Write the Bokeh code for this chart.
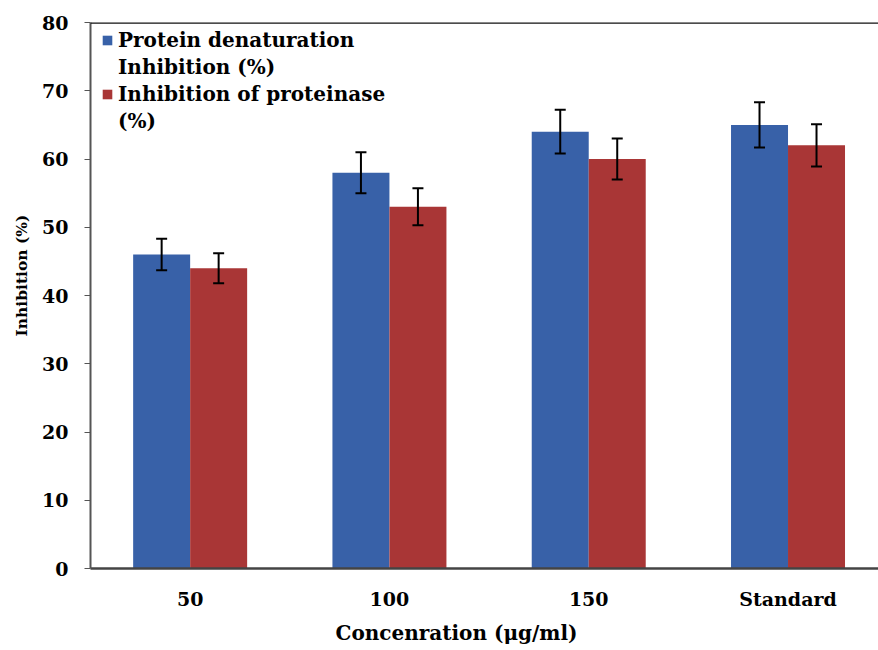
from bokeh.plotting import figure
from bokeh.models import (ColumnDataSource, Range1d, FixedTicker, Whisker, Span,
                          Legend, LegendItem, TeeHead, Title)
from bokeh.embed import file_html
from bokeh.resources import INLINE

categories = ["50", "100", "150", "Standard"]
denaturation = [46, 58, 64, 65]
denaturation_err = [2.3, 3.0, 3.2, 3.3]
proteinase = [44, 53, 60, 62]
proteinase_err = [2.2, 2.7, 3.0, 3.1]
y_ticks = [0, 10, 20, 30, 40, 50, 60, 70, 80]
legend_lines_1 = ["Protein denaturation", "Inhibition (%)"]
legend_lines_2 = ["Inhibition of proteinase", "(%)"]
x_title = "Concenration (μg/ml)"
y_title = "Inhibition (%)"

BLUE = "#3861A8"
RED = "#A93636"
FONT = "DejaVu Serif"
BAR_W = 0.286
OFF = 0.143

pos = [i + 0.5 for i in range(len(categories))]

src_b = ColumnDataSource(dict(
    x=[p_ - OFF for p_ in pos], top=denaturation,
    upper=[v + e for v, e in zip(denaturation, denaturation_err)],
    lower=[v - e for v, e in zip(denaturation, denaturation_err)]))
src_r = ColumnDataSource(dict(
    x=[p_ + OFF for p_ in pos], top=proteinase,
    upper=[v + e for v, e in zip(proteinase, proteinase_err)],
    lower=[v - e for v, e in zip(proteinase, proteinase_err)]))

p = figure(width=878, height=650, output_backend="svg",
           toolbar_location=None,
           x_range=Range1d(0, 3.954), y_range=Range1d(0, 80),
           min_border_left=90, min_border_top=22, min_border_bottom=81,
           min_border_right=0)
p.outline_line_color = None
p.xgrid.visible = False
p.ygrid.visible = False
p.background_fill_color = "white"
p.border_fill_color = "white"

rb = p.vbar(x="x", top="top", width=BAR_W, bottom=0, source=src_b,
            fill_color=BLUE, line_color=None)
rr = p.vbar(x="x", top="top", width=BAR_W, bottom=0, source=src_r,
            fill_color=RED, line_color=None)
blank = p.vbar(x=[], top=[], width=BAR_W, fill_alpha=0, line_alpha=0)

for src in (src_b, src_r):
    w = Whisker(base="x", upper="upper", lower="lower", source=src,
                line_color="black", line_width=2, level="overlay",
                upper_head=TeeHead(size=11, line_color="black", line_width=2),
                lower_head=TeeHead(size=11, line_color="black", line_width=2))
    p.add_layout(w)

p.add_layout(Span(location=80, dimension="width", line_color="#111111",
                  line_width=2.5))

# axes
p.xaxis.ticker = FixedTicker(ticks=pos)
p.xaxis.major_label_overrides = {pp: c for pp, c in zip(pos, categories)}
p.xaxis.major_tick_line_color = None
p.xaxis.minor_tick_line_color = None
p.xaxis.axis_line_color = "#444444"
p.xaxis.axis_line_width = 2.5
p.xaxis.major_label_standoff = 13

p.yaxis.ticker = FixedTicker(ticks=y_ticks)
p.yaxis.minor_tick_line_color = None
p.yaxis.major_tick_out = 6
p.yaxis.major_tick_in = 0
p.yaxis.major_tick_line_color = "#555555"
p.yaxis.axis_line_color = "#555555"
p.yaxis.axis_line_width = 2
p.yaxis.major_label_standoff = 16

for ax in (p.xaxis[0], p.yaxis[0]):
    ax.major_label_text_font = FONT
    ax.major_label_text_font_style = "bold"
    ax.major_label_text_font_size = "19px"
    ax.major_label_text_color = "black"

xt = Title(text=x_title, align="left", offset=245, text_font=FONT,
           text_font_style="bold", text_font_size="20px", text_color="black",
           standoff=12)
p.add_layout(xt, "below")
yt = Title(text=y_title, align="left", offset=232, text_font=FONT,
           text_font_style="bold", text_font_size="15.5px", text_color="black",
           standoff=17)
p.add_layout(yt, "left")

legend = Legend(items=[
    LegendItem(label=legend_lines_1[0], renderers=[rb]),
    LegendItem(label=legend_lines_1[1], renderers=[blank]),
    LegendItem(label=legend_lines_2[0], renderers=[rr]),
    LegendItem(label=legend_lines_2[1], renderers=[blank]),
], location=(11, 434))
legend.label_text_font = FONT
legend.label_text_font_style = "bold"
legend.label_text_font_size = "20px"
legend.label_text_color = "black"
legend.label_height = 27
legend.glyph_width = 12
legend.glyph_height = 12
legend.label_standoff = 5
legend.spacing = 0
legend.padding = 0
legend.margin = 0
legend.border_line_color = None
legend.background_fill_alpha = 0
p.add_layout(legend)

open("out.html", "w").write(file_html(p, INLINE))
